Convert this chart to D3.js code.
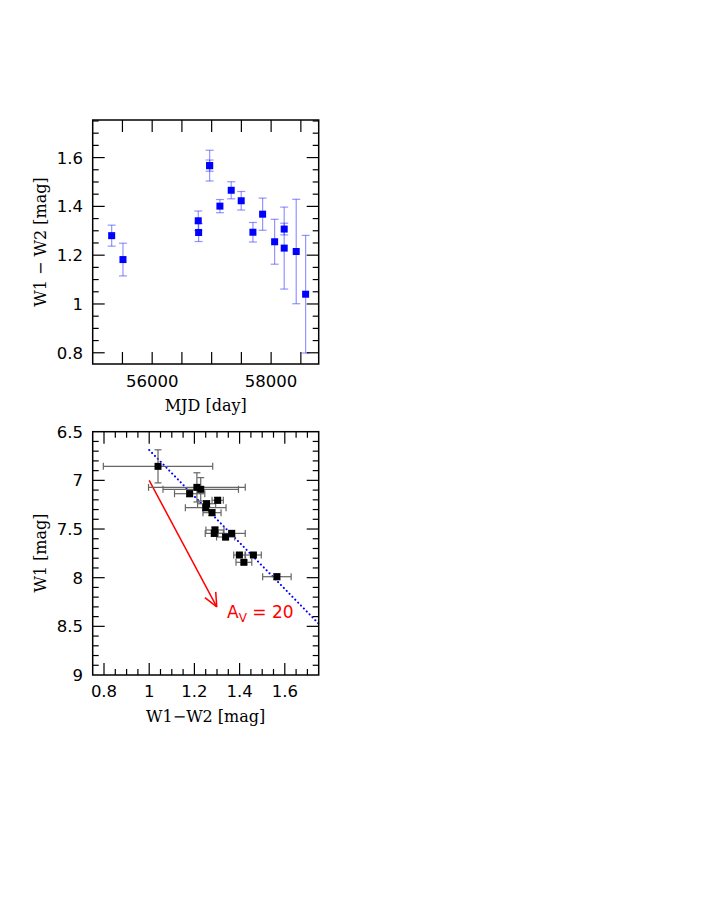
<!DOCTYPE html>
<html><head><meta charset="utf-8">
<script src="https://cdn.jsdelivr.net/npm/d3@7"></script>
<style>body{margin:0;background:#fff;} svg{display:block;}</style>
</head><body>
<script>
// ---- Data: top panel (colour light curve) ----
const mjd      = [55319, 55509, 56775, 56781, 56966, 56966, 57139, 57329, 57497, 57694, 57857, 58059, 58220, 58220, 58422, 58580];
const color    = [1.280, 1.182, 1.341, 1.293, 1.567, 1.567, 1.401, 1.466, 1.423, 1.294, 1.368, 1.255, 1.307, 1.229, 1.215, 1.040];
const colorErr = [0.043, 0.067, 0.040, 0.037, 0.063, 0.023, 0.027, 0.035, 0.038, 0.040, 0.066, 0.092, 0.024, 0.168, 0.214, 0.241];

// ---- Data: bottom panel (colour-magnitude) ----
const cmdColor    = [1.039, 1.211, 1.228, 1.179, 1.303, 1.254, 1.250, 1.278, 1.291, 1.288, 1.338, 1.365, 1.399, 1.461, 1.419, 1.565];
const cmdColorErr = [0.242, 0.214, 0.167, 0.067, 0.025, 0.040, 0.090, 0.040, 0.040, 0.040, 0.040, 0.060, 0.025, 0.035, 0.035, 0.063];
const w1          = [6.856, 7.072, 7.092, 7.137, 7.205, 7.240, 7.281, 7.332, 7.510, 7.545, 7.582, 7.545, 7.767, 7.767, 7.842, 7.990];
const w1Err       = [0.170, 0.150, 0.120, 0.030, 0.030, 0.030, 0.030, 0.030, 0.030, 0.030, 0.030, 0.030, 0.020, 0.020, 0.020, 0.030];

// fit line and extinction vector
const fitLine  = [[1.0, 6.688], [1.75, 8.473]];
const avArrow  = [[1.0, 7.0], [1.299, 8.30]];
const avLabel  = "20";

// tick labels
const topXTicks = [56000, 58000];
const topYTicks = [0.8, 1, 1.2, 1.4, 1.6];
const botXTicks = [0.8, 1, 1.2, 1.4, 1.6];
const botYTicks = [6.5, 7, 7.5, 8, 8.5, 9];

const W = 706, H = 913;
const svg = d3.select("body").append("svg").attr("width", W).attr("height", H);

const tickFont = "'DejaVu Sans', sans-serif";
const titleFont = "'DejaVu Serif', serif";

function frame(g, x, y) {
  const [x0, x1] = x.range(), ys = y.range();
  const yTop = Math.min(...ys), yBot = Math.max(...ys);
  g.append("rect").attr("x", x0).attr("y", yTop).attr("width", x1 - x0).attr("height", yBot - yTop)
    .attr("fill", "none").attr("stroke", "#000").attr("stroke-width", 1.5);
}
function ticks(g, x, y, xt, yt) {
  const [x0, x1] = x.range(), ys = y.range();
  const yTop = Math.min(...ys), yBot = Math.max(...ys);
  xt.forEach(t => {
    const px = x(t.v), L = t.major ? 12 : 6;
    g.append("line").attr("x1", px).attr("x2", px).attr("y1", yBot).attr("y2", yBot - L).attr("stroke", "#000").attr("stroke-width", 1.2);
    g.append("line").attr("x1", px).attr("x2", px).attr("y1", yTop).attr("y2", yTop + L).attr("stroke", "#000").attr("stroke-width", 1.2);
  });
  yt.forEach(t => {
    const py = y(t.v), L = t.major ? 12 : 6;
    g.append("line").attr("x1", x0).attr("x2", x0 + L).attr("y1", py).attr("y2", py).attr("stroke", "#000").attr("stroke-width", 1.2);
    g.append("line").attr("x1", x1).attr("x2", x1 - L).attr("y1", py).attr("y2", py).attr("stroke", "#000").attr("stroke-width", 1.2);
  });
}
function range(a, b, s) { const out = []; for (let v = a; v <= b + 1e-9; v += s) out.push(+v.toFixed(6)); return out; }

// ================= TOP PANEL =================
const xT = d3.scaleLinear().domain([55000, 58800]).range([92.7, 318.7]);
const yT = d3.scaleLinear().domain([0.754, 1.754]).range([364, 120]);
const gT = svg.append("g");

mjd.forEach((m, i) => {
  const px = xT(m), ya = yT(color[i] + colorErr[i]), yb = yT(color[i] - colorErr[i]);
  const c = "rgba(60,60,255,0.55)";
  gT.append("line").attr("x1", px).attr("x2", px).attr("y1", ya).attr("y2", yb).attr("stroke", c).attr("stroke-width", 1.2);
  [ya, yb].forEach(yy => gT.append("line").attr("x1", px - 4).attr("x2", px + 4).attr("y1", yy).attr("y2", yy).attr("stroke", c).attr("stroke-width", 1.2));
});
mjd.forEach((m, i) => {
  gT.append("rect").attr("x", xT(m) - 3.5).attr("y", yT(color[i]) - 3.5).attr("width", 7).attr("height", 7).attr("fill", "#0000ff");
});
frame(gT, xT, yT);
ticks(gT, xT, yT,
  range(55500, 58500, 500).map(v => ({v, major: true})),
  range(0.8, 1.75, 0.05).map(v => ({v, major: Math.abs(v * 5 - Math.round(v * 5)) < 1e-6})));
topXTicks.forEach(t => gT.append("text").attr("x", xT(t)).attr("y", 387).attr("text-anchor", "middle")
  .attr("font-family", tickFont).attr("font-size", 16.5).text(t));
topYTicks.forEach(t => gT.append("text").attr("x", 83).attr("y", yT(t)).attr("dy", "0.36em").attr("text-anchor", "end")
  .attr("font-family", tickFont).attr("font-size", 16.5).text(t));
gT.append("text").attr("x", 205.7).attr("y", 411).attr("text-anchor", "middle")
  .attr("font-family", titleFont).attr("font-size", 16).text("MJD [day]");
gT.append("text").attr("transform", "translate(46,242) rotate(-90)").attr("text-anchor", "middle")
  .attr("font-family", titleFont).attr("font-size", 16).text("W1 \u2212 W2 [mag]");

// ================= BOTTOM PANEL =================
const xB = d3.scaleLinear().domain([0.75, 1.75]).range([92.7, 318.7]);
const yB = d3.scaleLinear().domain([6.5, 9]).range([431.7, 675]);
const gB = svg.append("g");

gB.append("path").attr("d", d3.line().x(d => xB(d[0])).y(d => yB(d[1]))(fitLine))
  .attr("stroke", "#0000ff").attr("stroke-width", 2).attr("stroke-dasharray", "0.1,4").attr("stroke-linecap", "round").attr("fill", "none");

const [a0, a1] = avArrow;
const ax0 = xB(a0[0]), ay0 = yB(a0[1]), ax1 = xB(a1[0]), ay1 = yB(a1[1]);
gB.append("line").attr("x1", ax0).attr("y1", ay0).attr("x2", ax1).attr("y2", ay1).attr("stroke", "#ff0000").attr("stroke-width", 1.5);
const ang = Math.atan2(ay1 - ay0, ax1 - ax0), hl = 15, ha = 0.42;
[ang + Math.PI - ha, ang + Math.PI + ha].forEach(a =>
  gB.append("line").attr("x1", ax1).attr("y1", ay1).attr("x2", ax1 + hl * Math.cos(a)).attr("y2", ay1 + hl * Math.sin(a))
    .attr("stroke", "#ff0000").attr("stroke-width", 1.5));
const lab = gB.append("text").attr("x", 227).attr("y", 618).attr("fill", "#ff0000")
  .attr("font-family", tickFont).attr("font-size", 17);
lab.append("tspan").text("A");
lab.append("tspan").attr("dy", 4).attr("font-size", 12).text("V");
lab.append("tspan").attr("dy", -4).text(" = " + avLabel);

cmdColor.forEach((c, i) => {
  const px = xB(c), py = yB(w1[i]);
  const xa = xB(c - cmdColorErr[i]), xb = xB(c + cmdColorErr[i]);
  const ya = yB(w1[i] - w1Err[i]), yb = yB(w1[i] + w1Err[i]);
  const col = "#666";
  gB.append("line").attr("x1", xa).attr("x2", xb).attr("y1", py).attr("y2", py).attr("stroke", col).attr("stroke-width", 1.2);
  [xa, xb].forEach(xx => gB.append("line").attr("x1", xx).attr("x2", xx).attr("y1", py - 3.5).attr("y2", py + 3.5).attr("stroke", col).attr("stroke-width", 1.2));
  gB.append("line").attr("x1", px).attr("x2", px).attr("y1", ya).attr("y2", yb).attr("stroke", col).attr("stroke-width", 1.2);
  [ya, yb].forEach(yy => gB.append("line").attr("x1", px - 3.5).attr("x2", px + 3.5).attr("y1", yy).attr("y2", yy).attr("stroke", col).attr("stroke-width", 1.2));
});
cmdColor.forEach((c, i) => {
  gB.append("rect").attr("x", xB(c) - 3.5).attr("y", yB(w1[i]) - 3.5).attr("width", 7).attr("height", 7).attr("fill", "#000");
});
frame(gB, xB, yB);
ticks(gB, xB, yB,
  range(0.8, 1.7, 0.05).map(v => ({v, major: Math.abs(v * 5 - Math.round(v * 5)) < 1e-6})),
  range(6.6, 8.9, 0.1).map(v => ({v, major: Math.abs(v * 2 - Math.round(v * 2)) < 1e-6})));
botXTicks.forEach(t => gB.append("text").attr("x", xB(t)).attr("y", 697).attr("text-anchor", "middle")
  .attr("font-family", tickFont).attr("font-size", 16.5).text(t));
botYTicks.forEach(t => gB.append("text").attr("x", 83).attr("y", yB(t)).attr("dy", "0.36em").attr("text-anchor", "end")
  .attr("font-family", tickFont).attr("font-size", 16.5).text(t));
gB.append("text").attr("x", 205.7).attr("y", 722).attr("text-anchor", "middle")
  .attr("font-family", titleFont).attr("font-size", 16).text("W1\u2212W2 [mag]");
gB.append("text").attr("transform", "translate(46,553) rotate(-90)").attr("text-anchor", "middle")
  .attr("font-family", titleFont).attr("font-size", 16).text("W1 [mag]");
</script>
</body></html>
